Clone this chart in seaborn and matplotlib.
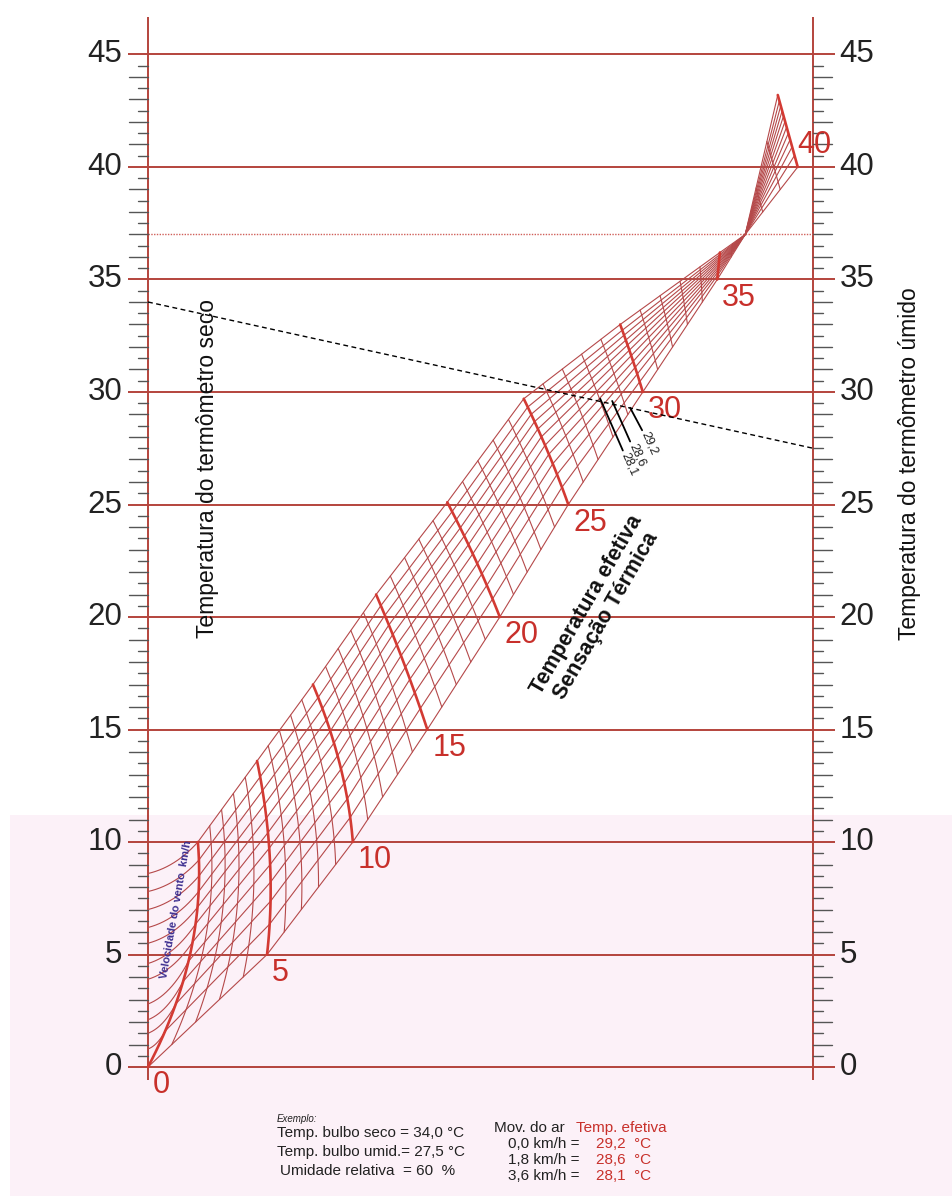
import numpy as np
import pandas as pd
import seaborn as sns
import matplotlib.pyplot as plt

sns.set_theme(style="white")
plt.rcParams['font.family'] = ['Liberation Sans', 'DejaVu Sans']

# chart units: x = 0 on the dry-bulb scale, x = 100 on the wet-bulb scale, y in degC
scale_labels = np.arange(0, 50, 5)
half_degrees = np.arange(0, 45.5, 0.5)

# effective temperature lines:
# low = still-air edge, top = far edge, bend = bow of the line
et_keys = [0, 5, 10, 15, 20, 25, 30, 35, 37, 40]
low_x = [0.0, 17.9, 30.8, 42.0, 52.9, 63.2, 74.4, 85.6, 89.8, 97.7]
low_t = [0.0, 5.0, 10.0, 15.0, 20.0, 25.0, 30.0, 35.0, 37.0, 40.0]
top_x = [7.5, 16.4, 24.8, 34.3, 45.0, 56.5, 71.0, 86.0, 89.8, 94.7]
top_t = [10.0, 13.6, 17.0, 21.0, 25.1, 29.7, 33.0, 36.2, 37.0, 43.2]
bend_x = [8.9, 19.5, 29.9, 38.8, 49.6, 60.3, 73.0, 85.8, 89.8, 96.2]
bend_t = [5.0, 9.2, 13.4, 17.9, 22.5, 27.4, 31.4, 35.6, 37.0, 41.6]
et_labels = [0, 5, 10, 15, 20, 25, 30, 35, 40]

# air speed curves: place across the ET lines and start height on the dry-bulb scale
speed_pos = [0.0, 0.16, 0.28, 0.38, 0.47, 0.555, 0.635, 0.71, 0.78, 0.85, 0.92, 1.0]
speed_start = [0.0, 0.8, 1.5, 2.1, 2.8, 3.9, 4.6, 5.5, 6.2, 7.0, 7.8, 8.6]

# worked example
ex_dry = 34.0
ex_wet = 27.5
ex_rh = 60
ex_speed = [0.0, 1.8, 3.6]
ex_et = [29.2, 28.6, 28.1]
# short reading marks for the example (start/end along the ET lines)
mark_x0 = [72.5, 69.8, 68.0]
mark_t0 = [29.3, 29.6, 29.7]
mark_x1 = [74.3, 72.5, 71.4]
mark_t1 = [28.3, 27.8, 27.4]

RED = "#c8302b"
LINE = "#b4443c"
MESH = "#b5494a"


def br(v, fmt="{:.1f}"):
    return fmt.format(v).replace(".", ",")


ets = np.arange(0, 41)
Lx, Lt = np.interp(ets, et_keys, low_x), np.interp(ets, et_keys, low_t)
Ux, Ut = np.interp(ets, et_keys, top_x), np.interp(ets, et_keys, top_t)
Cx, Ct = np.interp(ets, et_keys, bend_x), np.interp(ets, et_keys, bend_t)


def on_et(k, t):
    a, b, c = (1 - t) ** 2, 2 * t * (1 - t), t ** 2
    return a * Lx[k] + b * Cx[k] + c * Ux[k], a * Lt[k] + b * Ct[k] + c * Ut[k]


rows = []
for k in ets:
    t = np.linspace(0, 1, 30)
    x, y = on_et(k, t)
    for xi, yi in zip(x, y):
        rows.append(("et", k, xi, yi, k % 5 == 0))
for j, (s, h) in enumerate(zip(speed_pos, speed_start)):
    x, y = on_et(ets, s)
    if j > 0:
        u = np.linspace(0, 1, 15)[:-1]
        cx, cy = 0.55 * x[0], h + 0.2 * (y[0] - h)
        ex = 2 * u * (1 - u) * cx + u ** 2 * x[0]
        ey = (1 - u) ** 2 * h + 2 * u * (1 - u) * cy + u ** 2 * y[0]
        x, y = np.r_[ex, x], np.r_[ey, y]
    for xi, yi in zip(x, y):
        rows.append(("v", 100 + j, xi, yi, False))
mesh = pd.DataFrame(rows, columns=["kind", "line", "x", "y", "bold"])

fig = plt.figure(figsize=(9.53, 11.96), dpi=100)
ax = fig.add_axes([0, 0, 1, 1])

# pale band behind the lower part of the chart
ax.axhspan(-5.733, 11.2, xmin=10 / 953, xmax=1, color="#fcf1f8", zorder=0, lw=0)

ax.hlines(scale_labels, -3.0, 103.3, color=LINE, lw=1.4, zorder=1)
ax.vlines([0, 100], -0.58, 46.67, color=LINE, lw=1.4, zorder=1)
ax.hlines(37, 0, 100, color="#d0605a", lw=1.0, linestyles=(0, (1, 1)), zorder=1)

for v in half_degrees:
    if v % 5 == 0:
        continue
    ln = 2.86 if v % 1 == 0 else 1.5
    ax.plot([-ln, 0], [v, v], color="#555555", lw=1.0, zorder=1)
    ax.plot([100, 100 + ln], [v, v], color="#555555", lw=1.0, zorder=1)

for v in scale_labels:
    ax.text(-3.9, v, f"{v}", ha="right", va="center", fontsize=22.5, color="#222222")
    ax.text(104.0, v, f"{v}", ha="left", va="center", fontsize=22.5, color="#222222")

thin = mesh[~mesh["bold"]]
bold = mesh[mesh["bold"]]
sns.lineplot(data=thin, x="x", y="y", units="line", estimator=None, sort=False,
             color=MESH, lw=0.8, ax=ax, legend=False, zorder=2)
sns.lineplot(data=bold, x="x", y="y", units="line", estimator=None, sort=False,
             color="#d33a33", lw=1.9, ax=ax, legend=False, zorder=3)
ax.set_xlim(-22.256, 121.05)
ax.set_ylim(-5.733, 47.422)
ax.axis("off")

for v in et_labels:
    if v == 40:
        ax.text(Lx[v], Lt[v] + 0.3, f"{v}", ha="left", va="bottom", fontsize=22, color=RED)
    else:
        ax.text(Lx[v] + 0.75, Lt[v] - 0.15, f"{v}", ha="left", va="top", fontsize=22, color=RED)

# example: dry bulb to wet bulb
ax.plot([0, 100], [ex_dry, ex_wet], color="black", lw=1.0, ls=(0, (3.5, 2.5)), zorder=4)
for x0, t0, x1, t1, e in zip(mark_x0, mark_t0, mark_x1, mark_t1, ex_et):
    ax.plot([x0, x1], [t0, t1], color="black", lw=1.3, zorder=4)
    ax.text(x1 + 0.3, t1 - 0.1, br(e), rotation=-66, rotation_mode="anchor",
            ha="left", va="center", fontsize=9, color="#222222")

ax.text(9.0, 26.6, "Temperatura do termômetro seco", rotation=90, ha="center", va="center",
        fontsize=16.5, color="#111111")
ax.text(114.5, 26.8, "Temperatura do termômetro úmido", rotation=90, ha="center", va="center",
        fontsize=16.5, color="#111111")
ax.text(67.5, 20.3, "Temperatura efetiva\nSensação Térmica", rotation=60, ha="center",
        va="center", multialignment="center", fontsize=15.5, fontweight="bold",
        color="#111111", linespacing=1.1)
ax.text(4.3, 7.0, "Velocidade do vento  km/h", rotation=80, ha="center", va="center",
        fontsize=8, fontweight="bold", color="#3b2d8f")

# worked example text block
ax.text(19.4, -2.31, "Exemplo:", fontsize=7, style="italic", color="#222222", va="center")
left_lines = [f"Temp. bulbo seco = {br(ex_dry)} °C",
              f"Temp. bulbo umid.= {br(ex_wet)} °C",
              f"Umidade relativa  = {ex_rh}  %"]
for i, s in enumerate(left_lines):
    ax.text(19.4 if i < 2 else 19.85, -2.93 - 0.845 * i, s,
            fontsize=11, color="#222222", va="center")
ax.text(52.0, -2.71, "Mov. do ar", fontsize=11, color="#222222", va="center")
ax.text(64.4, -2.71, "Temp. efetiva", fontsize=11, color=RED, va="center")
for i, (sp, e) in enumerate(zip(ex_speed, ex_et)):
    y = -3.42 - 0.71 * i
    ax.text(54.1, y, f"{br(sp)} km/h =", fontsize=11, color="#222222", va="center")
    ax.text(67.3, y, f"{br(e)}  °C", fontsize=11, color=RED, va="center")

fig.savefig("out.png", dpi=100)
